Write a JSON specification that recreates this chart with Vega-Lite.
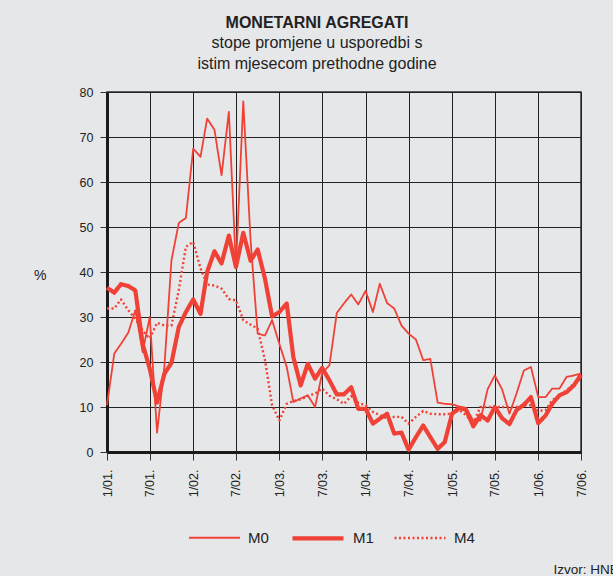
{
  "$schema": "https://vega.github.io/schema/vega-lite/v6.json",
  "width": 474,
  "height": 360,
  "autosize": {"type": "none"},
  "padding": {"left": 107, "top": 92, "right": 32, "bottom": 124},
  "background": "#e6e7e9",
  "config": {
    "view": {"stroke": "#333333", "strokeWidth": 1.5},
    "font": "Liberation Sans"
  },
  "title": {
    "text": "MONETARNI AGREGATI",
    "subtitle": ["stope promjene u usporedbi s", "istim mjesecom prethodne godine"],
    "font": "Liberation Sans",
    "fontSize": 16,
    "fontWeight": "bold",
    "color": "#222222",
    "subtitleFont": "Liberation Sans",
    "subtitleFontSize": 16,
    "subtitleColor": "#222222",
    "subtitleLineHeight": 21.5,
    "subtitlePadding": 4,
    "offset": 14,
    "anchor": "middle",
    "dx": -27
  },
  "data": {
    "format": {"parse": {"date": "date:'%Y-%m'"}},
    "values": [
      {"date": "2001-01", "M0": 10.4, "M1": 36.5, "M4": 31.9},
      {"date": "2001-02", "M0": 21.9, "M1": 35.4, "M4": 31.9},
      {"date": "2001-03", "M0": 24.0, "M1": 37.3, "M4": 33.9},
      {"date": "2001-04", "M0": 26.5, "M1": 36.9, "M4": 31.5},
      {"date": "2001-05", "M0": 31.5, "M1": 35.9, "M4": 29.6},
      {"date": "2001-06", "M0": 22.2, "M1": 24.0, "M4": 27.0},
      {"date": "2001-07", "M0": 30.0, "M1": 18.5, "M4": 25.2},
      {"date": "2001-08", "M0": 4.3, "M1": 11.0, "M4": 28.7},
      {"date": "2001-09", "M0": 19.0, "M1": 17.4, "M4": 28.1},
      {"date": "2001-10", "M0": 42.6, "M1": 19.8, "M4": 28.1},
      {"date": "2001-11", "M0": 50.9, "M1": 27.8, "M4": 36.0},
      {"date": "2001-12", "M0": 52.0, "M1": 31.1, "M4": 45.6},
      {"date": "2002-01", "M0": 67.4, "M1": 33.9, "M4": 46.7},
      {"date": "2002-02", "M0": 65.6, "M1": 30.7, "M4": 40.8},
      {"date": "2002-03", "M0": 74.1, "M1": 40.0, "M4": 37.2},
      {"date": "2002-04", "M0": 71.6, "M1": 44.6, "M4": 37.0},
      {"date": "2002-05", "M0": 61.5, "M1": 41.9, "M4": 36.3},
      {"date": "2002-06", "M0": 75.6, "M1": 48.1, "M4": 34.0},
      {"date": "2002-07", "M0": 41.1, "M1": 41.1, "M4": 33.7},
      {"date": "2002-08", "M0": 77.9, "M1": 48.7, "M4": 29.3},
      {"date": "2002-09", "M0": 47.0, "M1": 42.5, "M4": 28.3},
      {"date": "2002-10", "M0": 26.3, "M1": 45.0, "M4": 27.4},
      {"date": "2002-11", "M0": 25.9, "M1": 38.5, "M4": 20.4},
      {"date": "2002-12", "M0": 29.3, "M1": 30.1, "M4": 10.4},
      {"date": "2003-01", "M0": 24.0, "M1": 31.1, "M4": 7.0},
      {"date": "2003-02", "M0": 18.9, "M1": 33.0, "M4": 10.7},
      {"date": "2003-03", "M0": 11.1, "M1": 21.1, "M4": 11.3},
      {"date": "2003-04", "M0": 11.9, "M1": 14.8, "M4": 11.7},
      {"date": "2003-05", "M0": 12.6, "M1": 19.6, "M4": 12.4},
      {"date": "2003-06", "M0": 10.0, "M1": 16.3, "M4": 13.0},
      {"date": "2003-07", "M0": 17.5, "M1": 18.7, "M4": 14.1},
      {"date": "2003-08", "M0": 19.3, "M1": 15.9, "M4": 12.5},
      {"date": "2003-09", "M0": 30.9, "M1": 12.8, "M4": 11.7},
      {"date": "2003-10", "M0": 33.0, "M1": 12.8, "M4": 10.7},
      {"date": "2003-11", "M0": 35.0, "M1": 14.4, "M4": 12.4},
      {"date": "2003-12", "M0": 32.8, "M1": 9.6, "M4": 10.9},
      {"date": "2004-01", "M0": 35.8, "M1": 9.6, "M4": 10.4},
      {"date": "2004-02", "M0": 31.1, "M1": 6.3, "M4": 8.9},
      {"date": "2004-03", "M0": 37.4, "M1": 7.4, "M4": 8.2},
      {"date": "2004-04", "M0": 33.1, "M1": 8.5, "M4": 7.4},
      {"date": "2004-05", "M0": 31.9, "M1": 4.1, "M4": 7.8},
      {"date": "2004-06", "M0": 28.1, "M1": 4.3, "M4": 7.8},
      {"date": "2004-07", "M0": 26.3, "M1": 0.5, "M4": 6.3},
      {"date": "2004-08", "M0": 25.0, "M1": 3.3, "M4": 7.8},
      {"date": "2004-09", "M0": 20.4, "M1": 5.9, "M4": 9.1},
      {"date": "2004-10", "M0": 20.7, "M1": 3.3, "M4": 8.5},
      {"date": "2004-11", "M0": 11.0, "M1": 0.7, "M4": 8.4},
      {"date": "2004-12", "M0": 10.7, "M1": 2.2, "M4": 8.4},
      {"date": "2005-01", "M0": 10.6, "M1": 8.5, "M4": 8.5},
      {"date": "2005-02", "M0": 10.1, "M1": 9.8, "M4": 9.3},
      {"date": "2005-03", "M0": 9.8, "M1": 9.4, "M4": 8.2},
      {"date": "2005-04", "M0": 7.0, "M1": 5.7, "M4": 6.3},
      {"date": "2005-05", "M0": 7.0, "M1": 8.2, "M4": 10.0},
      {"date": "2005-06", "M0": 14.0, "M1": 7.0, "M4": 10.0},
      {"date": "2005-07", "M0": 17.0, "M1": 10.0, "M4": 10.0},
      {"date": "2005-08", "M0": 13.9, "M1": 7.5, "M4": 10.0},
      {"date": "2005-09", "M0": 8.5, "M1": 6.2, "M4": 10.0},
      {"date": "2005-10", "M0": 13.0, "M1": 9.3, "M4": 10.0},
      {"date": "2005-11", "M0": 18.1, "M1": 10.5, "M4": 10.4},
      {"date": "2005-12", "M0": 18.9, "M1": 12.2, "M4": 10.4},
      {"date": "2006-01", "M0": 12.2, "M1": 6.4, "M4": 9.1},
      {"date": "2006-02", "M0": 12.2, "M1": 8.1, "M4": 9.3},
      {"date": "2006-03", "M0": 14.1, "M1": 10.7, "M4": 11.5},
      {"date": "2006-04", "M0": 14.1, "M1": 12.6, "M4": 12.6},
      {"date": "2006-05", "M0": 16.7, "M1": 13.3, "M4": 13.7},
      {"date": "2006-06", "M0": 17.0, "M1": 14.8, "M4": 15.2},
      {"date": "2006-07", "M0": 17.4, "M1": 17.2, "M4": 16.3}
    ]
  },
  "transform": [{"fold": ["M4", "M0", "M1"], "as": ["series", "value"]}],
  "mark": {"type": "line", "strokeJoin": "round"},
  "encoding": {
    "x": {
      "field": "date",
      "type": "temporal",
      "scale": {"domain": [{"year": 2001, "month": 1, "date": 1}, {"year": 2006, "month": 7, "date": 1}], "nice": false},
      "axis": {
        "title": "Izvor: HNB",
        "titleX": 446,
        "titleY": 121,
        "titleAlign": "left",
        "titleAnchor": "start",
        "titleBaseline": "alphabetic",
        "titleFont": "Liberation Sans",
        "titleFontSize": 13.5,
        "titleFontWeight": "normal",
        "titleColor": "#222222",
        "tickCount": {"interval": "month", "step": 6},
        "format": "%-m/%y.",
        "labelAngle": -90,
        "labelFont": "Liberation Sans",
        "labelFontSize": 12.5,
        "labelColor": "#222222",
        "labelPadding": 9,
        "labelFlush": false,
        "labelOverlap": false,
        "tickSize": 8,
        "tickColor": "#333333",
        "tickWidth": 1,
        "grid": true,
        "gridColor": "#222222",
        "gridWidth": 1,
        "gridOpacity": 1,
        "domainColor": "#1a1a1a",
        "domainWidth": 3
      }
    },
    "y": {
      "field": "value",
      "type": "quantitative",
      "scale": {"domain": [0, 80], "nice": false},
      "axis": {
        "title": "%",
        "titleAngle": 0,
        "titleX": -61,
        "titleY": 183,
        "titleAlign": "right",
        "titleBaseline": "middle",
        "titleFont": "Liberation Sans",
        "titleFontSize": 14,
        "titleFontWeight": "normal",
        "titleColor": "#222222",
        "values": [0, 10, 20, 30, 40, 50, 60, 70, 80],
        "labelFont": "Liberation Sans",
        "labelFontSize": 12.5,
        "labelColor": "#222222",
        "labelPadding": 7,
        "tickSize": 7,
        "tickColor": "#333333",
        "grid": true,
        "gridColor": "#222222",
        "gridWidth": 1,
        "gridOpacity": 1,
        "domainColor": "#1a1a1a",
        "domainWidth": 3
      }
    },
    "color": {
      "field": "series",
      "type": "nominal",
      "scale": {"domain": ["M0", "M1", "M4"], "range": ["#ef4136", "#ef4136", "#ef4136"]},
      "legend": {"title": null, "orient": "none", "legendX": 81, "legendY": 418, "direction": "horizontal", "symbolType": "stroke", "symbolSize": 2601, "labelFont": "Liberation Sans", "labelFontSize": 15, "labelColor": "#222222", "labelOffset": 7, "columnPadding": 15}
    },
    "strokeWidth": {
      "field": "series",
      "type": "nominal",
      "scale": {"type": "ordinal", "domain": ["M0", "M1", "M4"], "range": [1.8, 4.2, 2.4]},
      "legend": {"title": null, "orient": "none", "legendX": 81, "legendY": 418, "direction": "horizontal", "symbolType": "stroke", "symbolSize": 2601, "labelFont": "Liberation Sans", "labelFontSize": 15, "labelColor": "#222222", "labelOffset": 7, "columnPadding": 15}
    },
    "strokeDash": {
      "field": "series",
      "type": "nominal",
      "scale": {"domain": ["M0", "M1", "M4"], "range": [[1, 0], [1, 0], [2, 2.5]]},
      "legend": {"title": null, "orient": "none", "legendX": 81, "legendY": 418, "direction": "horizontal", "symbolType": "stroke", "symbolSize": 2601, "labelFont": "Liberation Sans", "labelFontSize": 15, "labelColor": "#222222", "labelOffset": 7, "columnPadding": 15}
    }
  }
}
